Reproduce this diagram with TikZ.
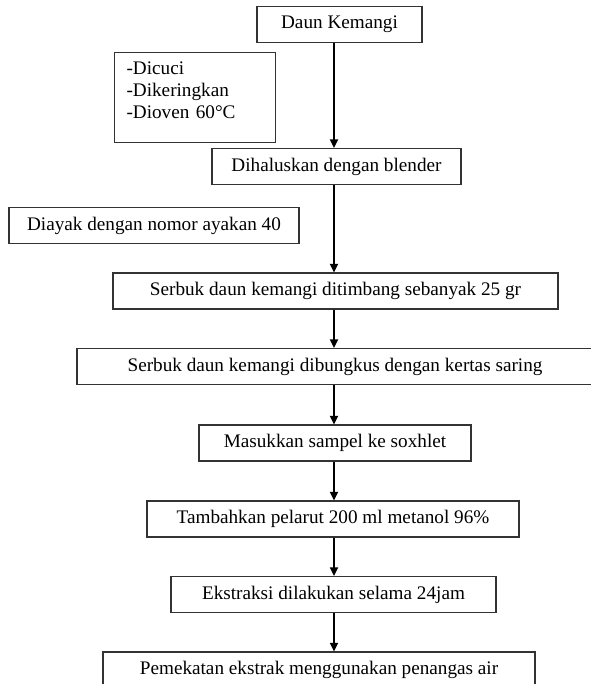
\documentclass[tikz,border=0pt]{standalone}
\usepackage{fontspec}
\setmainfont{Liberation Serif}
\usetikzlibrary{arrows.meta}

\begin{document}
\begin{tikzpicture}[
        x=0.75pt,y=-0.75pt,
        font=\fontsize{14.4pt}{16.5pt}\selectfont,
        box/.style={draw=black!80,line width=0.8pt,inner sep=0pt,minimum height=27pt},
        edge/.style={-{Triangle[width=6pt,length=6.5pt]},line width=1.4pt}
    ]
        \useasboundingbox (0,0) rectangle (590,684);

        % Define the nodes
        \node[box,minimum width=123.75pt] (daun) at (339.5,24.5) {Daun Kemangi};
        \node[draw=black!80,line width=0.8pt,anchor=north west,align=left,
              text width=102.75pt,inner xsep=9pt,inner ysep=6.75pt] (cuci) at (114,52)
              {-Dicuci\\-Dikeringkan\\-Dioven 60°C\rule[-11.25pt]{0pt}{11.25pt}};
        \node[box,minimum width=186.75pt] (halus) at (336.5,166.5) {Dihaluskan dengan blender};
        \node[box,minimum width=217.5pt] (ayak) at (154,225.5) {Diayak dengan nomor ayakan 40};
        \node[box,minimum width=333.75pt] (timbang) at (335.5,291) {Serbuk daun kemangi ditimbang sebanyak 25 gr};
        \node[box,minimum width=387pt] (bungkus) at (335,366.5) {Serbuk daun kemangi dibungkus dengan kertas saring};
        \node[box,minimum width=204pt] (soxhlet) at (335,443) {Masukkan sampel ke soxhlet};
        \node[box,minimum width=279pt] (pelarut) at (333,519) {Tambahkan pelarut 200 ml metanol 96\%};
        \node[box,minimum width=243.75pt] (ekstraksi) at (333.5,594.5) {Ekstraksi dilakukan selama 24jam};
        \node[box,minimum width=324pt] (pekat) at (319,670) {Pemekatan ekstrak menggunakan penangas air};
        \coordinate (axis) at (334,0);

        % Draw the arrows down the flow
        \draw [edge] (daun.south -| axis) -- (halus.north -| axis);
        \draw [edge] (halus.south -| axis) -- (timbang.north -| axis);
        \draw [edge] (timbang.south -| axis) -- (bungkus.north -| axis);
        \draw [edge] (bungkus.south -| axis) -- (soxhlet.north -| axis);
        \draw [edge] (soxhlet.south -| axis) -- (pelarut.north -| axis);
        \draw [edge] (pelarut.south -| axis) -- (ekstraksi.north -| axis);
        \draw [edge] (ekstraksi.south -| axis) -- (pekat.north -| axis);
    \end{tikzpicture}
\end{document}
